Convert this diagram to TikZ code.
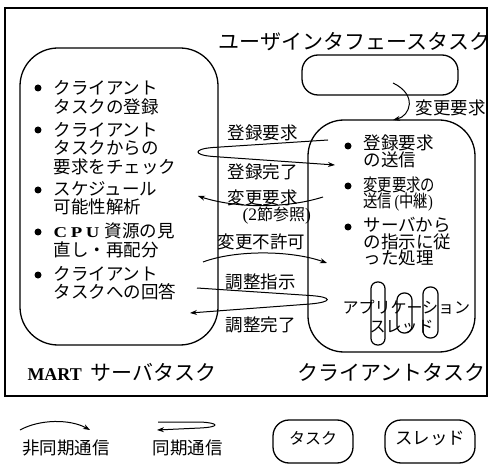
\documentclass[tikz,border=0pt]{standalone}
\usepackage{fontspec}
\usepackage{graphicx}
\newfontfamily\jp{Noto Sans CJK JP}
\newfontfamily\lat{Liberation Serif}
\usetikzlibrary{arrows.meta}
\begin{document}
\begin{tikzpicture}[x=1pt,y=-1pt,
  line width=1pt,
  box/.style={draw, line width=1.3pt, inner sep=0, outer sep=0},
  txt/.style={font=\jp\fontsize{17.5}{18.5}\selectfont, inner sep=0, anchor=west, align=left},
  ctxt/.style={font=\jp\fontsize{17.5}{16.5}\selectfont, inner sep=0, anchor=west, align=left},
  ttl/.style={font=\jp\fontsize{21}{22}\selectfont, inner sep=0, anchor=west},
  msg/.style={font=\jp\fontsize{17.5}{18}\selectfont, inner sep=0, anchor=west},
  small/.style={font=\jp\fontsize{16}{17}\selectfont, inner sep=0},
  dot/.style={circle, fill, inner sep=0, minimum size=7pt},
  conn/.style={line width=1pt},
  tip/.style={-{Stealth[length=7pt,width=5pt]}}
]
\fill[white] (0,0) rectangle (490,465);
\useasboundingbox (0,0) rectangle (490,465);

% outer frame
\draw[line width=1.3pt] (5,8) rectangle (487,396);

% boxes
\node[box, rounded corners=38pt, minimum width=198pt, minimum height=297pt] (mart) at (119,196.5) {};
\node[box, rounded corners=36pt, minimum width=167pt, minimum height=232pt] (client) at (391.5,236) {};
\node[box, rounded corners=16pt, minimum width=156pt, minimum height=40pt] (ui) at (380,75) {};

% titles
\node[ttl] (uit) at (218,42) {ユーザインタフェースタスク};
\node[ttl] (martt) at (27,372) {{\lat\bfseries\fontsize{18}{18}\selectfont MART}\hspace{9pt}サーバタスク};
\node[ttl] (clientt) at (297,372) {クライアントタスク};

% left bullets
\node[dot] (d1) at (38,88) {};
\node[txt] (b1) at (53,97.5) {クライアント\\タスクの登録};
\node[dot] (d2) at (38,130) {};
\node[txt] (b2) at (53,148.5) {クライアント\\タスクからの\\要求をチェック};
\node[dot] (d3) at (38,190) {};
\node[txt] (b3) at (53,198.5) {スケジュール\\可能性解析};
\node[dot] (d4) at (38,232) {};
\node[txt] (b4) at (53,240.5) {\scalebox{1.25}[1]{\lat\bfseries\fontsize{15}{17}\selectfont C\kern3pt P\kern3pt U}\hspace{5pt}資源の見\\直し・再配分};
\node[dot] (d5) at (38,275) {};
\node[txt] (b5) at (53,283) {クライアント\\タスクへの回答};

% client bullets
\node[dot] (c1d) at (348,146) {};
\node[ctxt] (c1) at (363,151.5) {登録要求\\の送信};
\node[dot] (c2d) at (348,186) {};
\node[ctxt] (c2) at (363,194) {\scalebox{0.82}[1]{変更要求の}\\\scalebox{0.82}[1]{送信{\lat\fontsize{17.5}{17}\selectfont\,(}中継{\lat\fontsize{17.5}{17}\selectfont )}}};
\node[dot] (c3d) at (348,227) {};
\node[ctxt] (c3) at (363,242) {サーバから\\の指示に従\\った処理};

% application threads
\node[small, anchor=west] (appt) at (342,307) {アプリケーション};
\node[small, anchor=west] (thrt) at (369,327) {スレッド};
\node[box, line width=1.2pt, rounded corners=6.5pt, minimum width=14pt, minimum height=63pt] (t1) at (378,313.5) {};
\node[box, line width=1.2pt, rounded corners=7pt, minimum width=15pt, minimum height=40pt] (t2) at (404.5,313) {};
\node[box, line width=1.2pt, rounded corners=7pt, minimum width=15pt, minimum height=51pt] (t3) at (430.5,312.5) {};

% UI -> client
\coordinate (uis) at (393,83);
\draw[conn,tip] (uis) .. controls (418,95) and (410,116) .. (client.north -| 393,0);
\node[msg] (uim) at (415,108) {変更要求};

% registration (sync)
\coordinate (r1) at (328,140);
\coordinate (r2) at (335,165);
\draw[conn,tip] (r1) -- (213,147.5) .. controls (193,149) and (193,155) .. (213,156.5) -- (r2);
\node[msg] (m1) at (227,133) {登録要求};
\node[msg] (m2) at (227,172) {登録完了};

% change request (async)
\coordinate (q1) at (323,197);
\coordinate (q2) at (198,196);
\draw[conn,tip] (q1) .. controls (285,209) and (235,208) .. (q2);
\node[msg] (m3) at (227,198) {変更要求};
\node[msg, font=\jp\fontsize{16}{16}\selectfont] (m3b) at (242,216) {{\lat\fontsize{17.5}{17}\selectfont (2}節参照{\lat\fontsize{17.5}{17}\selectfont )}};

% not permitted (async)
\coordinate (p1) at (203,262);
\coordinate (p2) at (327,263);
\draw[conn,tip] (p1) .. controls (235,250) and (290,250) .. (p2);
\node[msg] (m4) at (217,242) {変更不許可};

% adjustment (sync)
\coordinate (a1) at (197,288);
\coordinate (a2) at (190,313);
\draw[conn,tip] (a1) -- (310,295.5) .. controls (333,297) and (333,302) .. (310,304) -- (a2);
\node[msg] (m5) at (225,282) {調整指示};
\node[msg] (m6) at (225,325) {調整完了};

% legend
\coordinate (la1) at (20,430);
\coordinate (la2) at (90,430);
\draw[conn,tip] (la1) .. controls (40,419) and (70,419) .. (la2);
\node[msg] (l1) at (22,448) {非同期通信};
\coordinate (ls1) at (158,422);
\coordinate (ls2) at (157,430);
\draw[conn,tip] (ls1) -- (200,422) .. controls (220,423) and (220,427) .. (200,428) -- (ls2);
\node[msg] (l2) at (152,448) {同期通信};

\node[box, rounded corners=16pt, minimum width=80pt, minimum height=43pt] (lt) at (313,441.5) {};
\node[small] (ltt) at (313,438) {タスク};
\node[box, rounded corners=16pt, minimum width=90pt, minimum height=43pt] (lsb) at (430,441.5) {};
\node[small, font=\jp\fontsize{17.5}{18}\selectfont] (lst) at (430,438) {スレッド};
\end{tikzpicture}
\end{document}
